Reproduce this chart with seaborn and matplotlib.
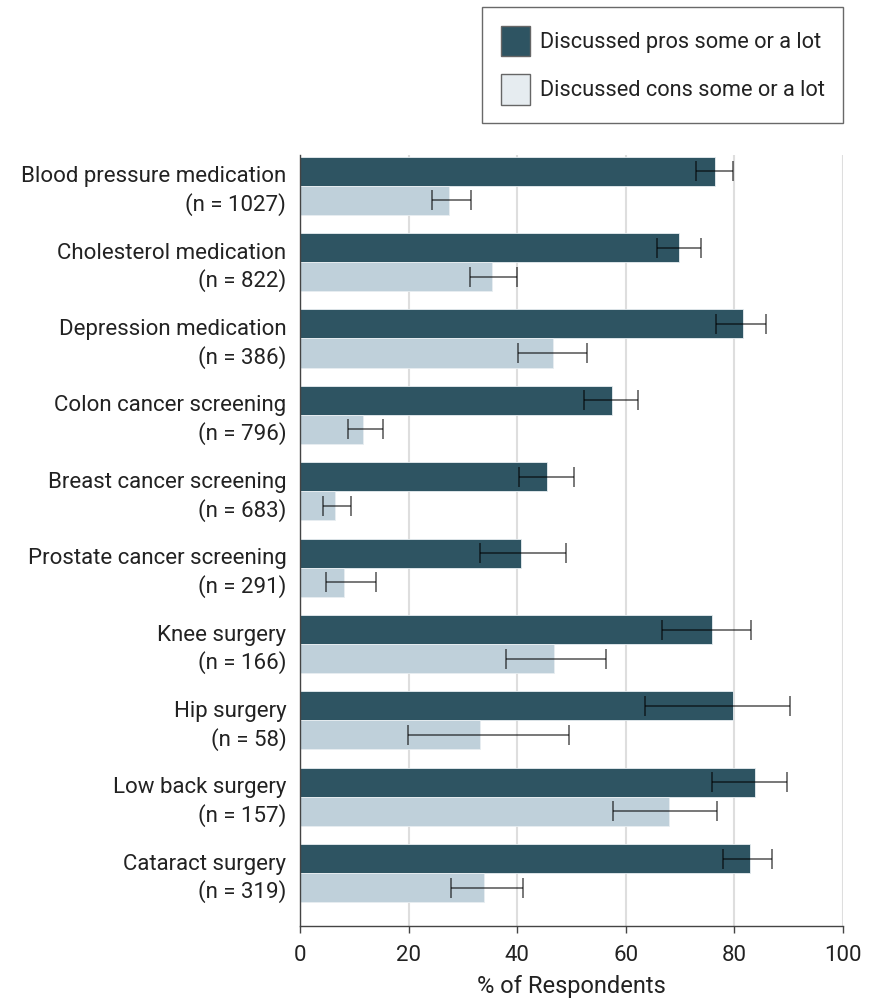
import matplotlib
matplotlib.use("Agg")
import matplotlib.pyplot as plt
from matplotlib.patches import Patch
import seaborn as sns
import pandas as pd
import numpy as np

# Survey items and sample sizes
categories = [
    "Blood pressure medication", "Cholesterol medication", "Depression medication",
    "Colon cancer screening", "Breast cancer screening", "Prostate cancer screening",
    "Knee surgery", "Hip surgery", "Low back surgery", "Cataract surgery",
]
sample_sizes = [1027, 822, 386, 796, 683, 291, 166, 58, 157, 319]

# Percent discussing pros, with 95% CI bounds
pros_pct = [76.4, 69.8, 81.5, 57.4, 45.4, 40.7, 75.8, 79.8, 83.8, 82.9]
pros_lo = [73.0, 65.7, 76.6, 52.2, 40.4, 33.2, 66.6, 63.6, 75.8, 77.9]
pros_hi = [79.8, 73.9, 85.8, 62.3, 50.5, 49.0, 83.1, 90.2, 89.7, 86.9]

# Percent discussing cons, with 95% CI bounds
cons_pct = [27.5, 35.4, 46.6, 11.6, 6.4, 8.1, 46.8, 33.1, 68.0, 33.9]
cons_lo = [24.3, 31.2, 40.2, 8.9, 4.3, 4.7, 37.9, 19.9, 57.6, 27.8]
cons_hi = [31.4, 39.9, 52.9, 15.2, 9.3, 13.9, 56.3, 49.6, 76.8, 41.0]

series_names = ["Discussed pros some or a lot", "Discussed cons some or a lot"]
x_ticks = [0, 20, 40, 60, 80, 100]

PROS_COLOR = "#2E5462"
CONS_COLOR = "#BFD0DA"
CONS_LEGEND = "#E6ECF0"
TEXT_COLOR = "#222222"

labels = [f"{c}\n(n = {n})" for c, n in zip(categories, sample_sizes)]

df = pd.DataFrame({
    "label": labels * 2,
    "series": [series_names[0]] * len(labels) + [series_names[1]] * len(labels),
    "pct": pros_pct + cons_pct,
})

sns.set_theme(style="white")
plt.rcParams["font.family"] = ["Roboto", "DejaVu Sans"]

fig = plt.figure(figsize=(8.7, 10.01), dpi=100)
ax = fig.add_axes([0.345, 0.075, 0.624, 0.770])

sns.barplot(
    data=df, x="pct", y="label", hue="series", orient="h",
    palette=[PROS_COLOR, CONS_COLOR], saturation=1, width=0.76, errorbar=None,
    edgecolor="#e8eef1", linewidth=0.6, ax=ax, legend=False, zorder=2,
)

# Confidence-interval whiskers at the drawn bar centres
patches = sorted(ax.patches, key=lambda p: p.get_y())
n = len(categories)
pros_centres = [p.get_y() + p.get_height() / 2 for p in patches[0::2]][:n]
cons_centres = [p.get_y() + p.get_height() / 2 for p in patches[1::2]][:n]
for centres, val, lo, hi in [
    (pros_centres, pros_pct, pros_lo, pros_hi),
    (cons_centres, cons_pct, cons_lo, cons_hi),
]:
    val = np.array(val)
    err = np.vstack([val - np.array(lo), np.array(hi) - val])
    ax.errorbar(val, centres, xerr=err, fmt="none", ecolor=(0, 0, 0, 0.62),
                elinewidth=1.2, capsize=7, capthick=1.2, zorder=3)

ax.set_xlim(0, 100)
ax.set_ylim(9.69, -0.40)
ax.set_xticks(x_ticks)
ax.set_xticklabels([str(t) for t in x_ticks])
ax.xaxis.grid(True, color="#dedede", linewidth=1.5, zorder=0)
ax.set_axisbelow(True)
for side in ["top", "right"]:
    ax.spines[side].set_visible(False)
for side in ["left", "bottom"]:
    ax.spines[side].set_color("#444444")
    ax.spines[side].set_linewidth(1.0)
ax.tick_params(axis="x", bottom=True, length=5, width=1, color="#444444",
               labelsize=16, labelcolor=TEXT_COLOR, pad=9)
ax.tick_params(axis="y", left=False, length=0, labelsize=16,
               labelcolor=TEXT_COLOR, pad=10)
for t in ax.get_yticklabels():
    t.set_horizontalalignment("right")
    t.set_multialignment("right")
    t.set_linespacing(1.32)
ax.set_ylabel("")
ax.set_xlabel("% of Respondents", fontsize=17, color=TEXT_COLOR, labelpad=6)

handles = [
    Patch(facecolor=PROS_COLOR, edgecolor="#666666", linewidth=1),
    Patch(facecolor=CONS_LEGEND, edgecolor="#666666", linewidth=1),
]
leg = fig.legend(
    handles, series_names, loc="upper right", bbox_to_anchor=(0.969, 0.993),
    frameon=True, fancybox=False, edgecolor="#444444", fontsize=15.7,
    handlelength=1.33, handleheight=1.8, handletextpad=0.45, labelspacing=0.8,
    borderpad=0.85, borderaxespad=0,
)
for t in leg.get_texts():
    t.set_color(TEXT_COLOR)
fig.savefig("out.png", dpi=100)
